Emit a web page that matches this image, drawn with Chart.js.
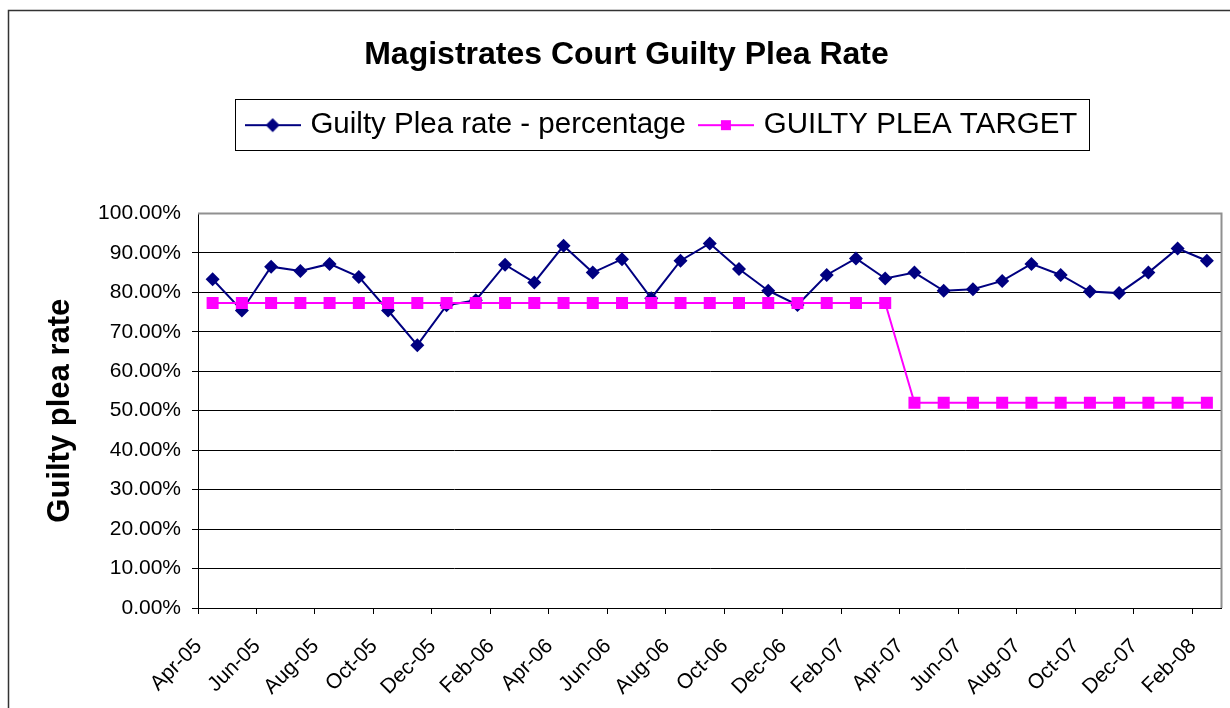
<!DOCTYPE html>
<html>
<head>
<meta charset="utf-8">
<script src="https://cdn.jsdelivr.net/npm/chart.js@4/dist/chart.umd.min.js"></script>
<style>
  body { margin: 0; background: #fff; }
  canvas { display: block; }
</style>
</head>
<body>
<canvas id="pleaChart" width="1230" height="708"></canvas>
<script>
// Months (x axis categories)
const months = ['Apr-05', 'May-05', 'Jun-05', 'Jul-05', 'Aug-05', 'Sep-05', 'Oct-05', 'Nov-05', 'Dec-05', 'Jan-06',
  'Feb-06', 'Mar-06', 'Apr-06', 'May-06', 'Jun-06', 'Jul-06', 'Aug-06', 'Sep-06', 'Oct-06', 'Nov-06',
  'Dec-06', 'Jan-07', 'Feb-07', 'Mar-07', 'Apr-07', 'May-07', 'Jun-07', 'Jul-07', 'Aug-07', 'Sep-07',
  'Oct-07', 'Nov-07', 'Dec-07', 'Jan-08', 'Feb-08'];

// Guilty plea rate (%)
const pleaRate = [83.3, 75.4, 86.5, 85.4, 87.2, 83.9, 75.4, 66.6, 76.7, 78.0,
  87.0, 82.5, 91.8, 85.0, 88.4, 78.5, 88.0, 92.4, 85.9, 80.4,
  76.8, 84.4, 88.6, 83.5, 85.0, 80.4, 80.8, 82.9, 87.2, 84.4,
  80.2, 79.8, 85.0, 91.1, 88.0];

// Guilty plea target (%)
const pleaTarget = [77.3, 77.3, 77.3, 77.3, 77.3, 77.3, 77.3, 77.3, 77.3, 77.3,
  77.3, 77.3, 77.3, 77.3, 77.3, 77.3, 77.3, 77.3, 77.3, 77.3,
  77.3, 77.3, 77.3, 77.3, 52.0, 52.0, 52.0, 52.0, 52.0, 52.0,
  52.0, 52.0, 52.0, 52.0, 52.0];

const BLUE = '#000080';
const PINK = '#FF00FF';
const FONT = 'Arial, "Liberation Sans", sans-serif';
const LEGEND_SHIFT = { x: 29, y: 2 };
const TITLE_SHIFT = -8;

// legend symbol: short line with the marker in the middle
function legendSymbol(color, shape) {
  const c = document.createElement('canvas');
  c.width = 56; c.height = 20;
  const g = c.getContext('2d');
  g.strokeStyle = color;
  g.lineWidth = 2;
  g.beginPath(); g.moveTo(0, 10); g.lineTo(56, 10); g.stroke();
  g.fillStyle = color;
  if (shape === 'diamond') {
    g.beginPath(); g.moveTo(28, 3); g.lineTo(35, 10); g.lineTo(28, 17); g.lineTo(21, 10); g.closePath(); g.fill();
  } else {
    g.fillRect(23, 5, 10, 10);
  }
  return c;
}

// white page, outer frame, plot border and box round the legend
const framePlugin = {
  id: 'frame',
  beforeUpdate(chart) {
    const lg = chart.legend;
    if (lg && !lg._patched) {
      // leave room under the legend, as in the original
      const fit = lg.fit;
      lg.fit = function () { fit.call(this); this.height = 122; };
      // the legend sits a little right of centre
      const draw = lg.draw;
      lg.draw = function () {
        const ctx = this.ctx;
        ctx.save();
        ctx.translate(LEGEND_SHIFT.x, LEGEND_SHIFT.y);
        draw.apply(this, arguments);
        ctx.restore();
      };
      lg._patched = true;
    }
    const tb = chart.titleBlock;
    if (tb && !tb._patched) {
      const draw = tb.draw;
      tb.draw = function () {
        const ctx = this.ctx;
        ctx.save();
        ctx.translate(TITLE_SHIFT, 0);
        draw.apply(this, arguments);
        ctx.restore();
      };
      tb._patched = true;
    }
  },
  beforeDraw(chart) {
    const ctx = chart.ctx;
    ctx.save();
    ctx.fillStyle = '#fff';
    ctx.fillRect(0, 0, chart.width, chart.height);
    ctx.strokeStyle = '#333';
    ctx.lineWidth = 1.5;
    ctx.strokeRect(8.5, 10.5, chart.width + 20, chart.height + 20);
    ctx.restore();
  },
  afterDraw(chart) {
    const ctx = chart.ctx;
    const a = chart.chartArea;
    ctx.save();
    ctx.strokeStyle = '#909090';
    ctx.lineWidth = 2;
    ctx.beginPath();
    ctx.moveTo(a.left, a.top); ctx.lineTo(a.right, a.top); ctx.lineTo(a.right, a.bottom);
    ctx.stroke();
    const hb = chart.legend.legendHitBoxes;
    if (hb && hb.length) {
      const left = Math.min(...hb.map(h => h.left)) - 15 + LEGEND_SHIFT.x;
      const right = Math.max(...hb.map(h => h.left + h.width)) + 11 + LEGEND_SHIFT.x;
      const mid = hb[0].top + hb[0].height / 2 + LEGEND_SHIFT.y;
      ctx.strokeStyle = '#000';
      ctx.lineWidth = 1;
      ctx.strokeRect(Math.round(left) + 0.5, Math.round(mid - 26) + 0.5, Math.round(right - left), 51);
    }
    ctx.restore();
  }
};

new Chart(document.getElementById('pleaChart'), {
  type: 'line',
  data: {
    labels: months,
    datasets: [{
      label: 'Guilty Plea rate - percentage',
      data: pleaRate,
      borderColor: BLUE,
      backgroundColor: BLUE,
      borderWidth: 2,
      pointStyle: 'rectRot',
      pointRadius: 7,
      pointBorderWidth: 0,
      tension: 0,
      order: 1
    }, {
      label: 'GUILTY PLEA TARGET',
      data: pleaTarget,
      borderColor: PINK,
      backgroundColor: PINK,
      borderWidth: 2,
      pointStyle: 'rect',
      pointRadius: 8.5,
      pointBorderWidth: 0,
      tension: 0,
      order: 0
    }]
  },
  options: {
    responsive: false,
    animation: false,
    layout: { padding: { left: 42, right: 3, top: 0, bottom: 0 } },
    plugins: {
      tooltip: { enabled: false },
      title: {
        display: true,
        text: 'Magistrates Court Guilty Plea Rate',
        color: '#000',
        font: { family: FONT, size: 32, weight: 'bold' },
        padding: { top: 36, bottom: 17 }
      },
      legend: {
        display: true,
        labels: {
          color: '#000',
          font: { family: FONT, size: 29.5 },
          usePointStyle: true,
          pointStyleWidth: 46,
          padding: 17,
          sort: (a, b) => a.datasetIndex - b.datasetIndex,
          generateLabels(chart) {
            return chart.data.datasets.map((ds, i) => ({
              text: ds.label,
              datasetIndex: i,
              fontColor: '#000',
              pointStyle: legendSymbol(ds.borderColor, i === 0 ? 'diamond' : 'square'),
              fillStyle: ds.borderColor,
              strokeStyle: ds.borderColor,
              lineWidth: 0,
              hidden: false
            }));
          }
        }
      }
    },
    scales: {
      x: {
        offset: true,
        afterFit(scale) {
          scale.height = 100;
          scale.paddingLeft = 0;
          scale.paddingRight = 0;
        },
        grid: {
          offset: true,
          drawOnChartArea: false,
          tickLength: 6,
          color: ctx => (ctx.index % 2 === 0 ? '#000' : 'rgba(0,0,0,0)')
        },
        border: { color: '#000', width: 1 },
        ticks: {
          autoSkip: false,
          minRotation: 45,
          maxRotation: 45,
          color: '#000',
          font: { family: FONT, size: 21 },
          padding: 20,
          labelOffset: -14,
          callback(value, index) { return index % 2 === 0 ? months[index] : ''; }
        }
      },
      y: {
        min: 0,
        max: 100,
        afterFit(scale) { scale.width = 156; },
        grid: {
          color: ctx => (ctx.tick && ctx.tick.value === 100 ? 'rgba(0,0,0,0)' : '#000'),
          tickLength: 6
        },
        border: { color: '#000', width: 1 },
        ticks: {
          stepSize: 10,
          color: '#000',
          font: { family: FONT, size: 21 },
          padding: 11,
          callback: v => v.toFixed(2) + '%'
        },
        title: {
          display: true,
          text: 'Guilty plea rate',
          color: '#000',
          font: { family: FONT, size: 31, weight: 'bold' },
          padding: { top: 0, bottom: 0 }
        }
      }
    }
  },
  plugins: [framePlugin]
});
</script>
</body>
</html>
